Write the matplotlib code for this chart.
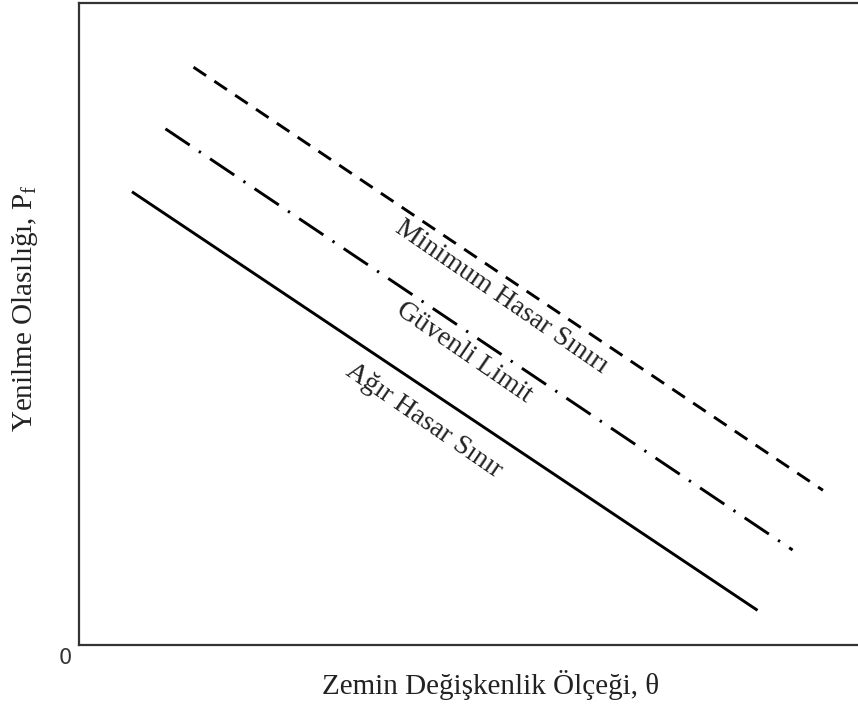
import matplotlib
matplotlib.use("Agg")
import matplotlib.pyplot as plt

# Data (schematic lines, in arbitrary axis units 0-10)
theta_min = [1.47, 9.55]
pf_min = [9.00, 2.41]
theta_safe = [1.11, 9.16]
pf_safe = [8.04, 1.48]
theta_severe = [0.68, 8.71]
pf_severe = [7.06, 0.54]

label_min = "Minimum Hasar Sınırı"
label_safe = "Güvenli Limit"
label_severe = "Ağır Hasar Sınır"
label_pos_min = (5.43, 5.42)
label_pos_safe = (4.94, 4.56)
label_pos_severe = (4.42, 3.50)

xlabel = "Zemin Değişkenlik Ölçeği, θ"
ylabel = "Yenilme Olasılığı, P$_\\mathrm{f}$"

plt.rcParams['font.family'] = ['Liberation Serif', 'DejaVu Serif']
plt.rcParams['mathtext.fontset'] = 'custom'
plt.rcParams['mathtext.rm'] = 'Liberation Serif'

fig = plt.figure(figsize=(8.58, 7.13), dpi=100)
ax = fig.add_axes([79/858, (713-645)/713, (858-79)/858, (645-3)/713])
ax.set_xlim(0, 10)
ax.set_ylim(0, 10)

lw = 2.1
ax.plot(theta_severe, pf_severe, color='black', lw=lw, solid_capstyle='butt')
ax.plot(theta_safe, pf_safe, color='black', lw=lw, linestyle=(0, (10.0, 3.8, 0.8, 3.8)))
ax.plot(theta_min, pf_min, color='black', lw=lw, linestyle=(0, (5.2, 3.4)))

rot = -34.5
for txt, (x, y) in [(label_min, label_pos_min), (label_safe, label_pos_safe), (label_severe, label_pos_severe)]:
    ax.text(x, y, txt, rotation=rot, rotation_mode='anchor', ha='center', va='center',
            fontsize=20, color='#222222')

ax.set_xticks([])
ax.set_yticks([])
for s in ['left', 'bottom', 'top']:
    ax.spines[s].set_linewidth(1.6)
    ax.spines[s].set_color('#333333')
ax.spines['right'].set_visible(False)

ax.set_xlabel(xlabel, fontsize=21, color='#222222')
ax.set_ylabel(ylabel, fontsize=21, color='#222222')
ax.xaxis.set_label_coords(0.528, -0.039)
ax.yaxis.set_label_coords(-0.05, 0.525)
ax.text(-0.018, -0.021, "0", transform=ax.transAxes, fontsize=15, family='DejaVu Sans',
        ha='center', va='center', color='#333333')

fig.savefig("out.png", dpi=100)
